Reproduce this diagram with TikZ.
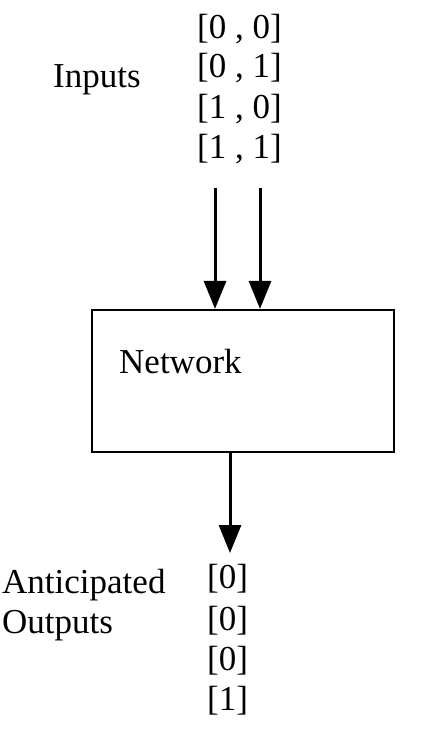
\documentclass[tikz,border=0pt]{standalone}
\usepackage{fontspec}
\setmainfont{Liberation Serif}
\usetikzlibrary{arrows.meta}
\begin{document}
\begin{tikzpicture}[x=1pt,y=1pt,
  lbl/.style={anchor=base west,inner sep=0pt,font=\fontsize{35}{39.5}\selectfont},
  arr/.style={line width=3pt,-{Triangle[width=22pt,length=28pt]}},
  boxstyle/.style={draw,line width=2.2pt,minimum width=302pt,minimum height=142pt,inner sep=0pt}]
\useasboundingbox (0,0) rectangle (424,-741);
% inputs
\node[lbl] (in1) at (197,-39) {[0 , 0]};
\node[lbl] (in2) at (197,-78) {[0 , 1]};
\node[lbl] (in3) at (197,-118) {[1 , 0]};
\node[lbl] (in4) at (197,-158) {[1 , 1]};
\node[lbl] (inlbl) at (53,-88) {Inputs};
% box
\node[boxstyle] (net) at (243,-381) {};
\node[lbl] (netlbl) at (119,-373) {Network};
% arrows
\coordinate (a1) at (215,-188);
\coordinate (a2) at (260,-188);
\draw[arr] (a1) -- (a1 |- net.north);
\draw[arr] (a2) -- (a2 |- net.north);
\coordinate (b1) at (230,-553);
\draw[arr] (net.south -| b1) -- (b1);
% outputs
\node[lbl] (out1) at (207,-588) {[0]};
\node[lbl] (out2) at (207,-630) {[0]};
\node[lbl] (out3) at (207,-670) {[0]};
\node[lbl] (out4) at (207,-710) {[1]};
\node[lbl] (outlbl1) at (2,-593) {Anticipated};
\node[lbl] (outlbl2) at (2,-633) {Outputs};
\end{tikzpicture}
\end{document}
